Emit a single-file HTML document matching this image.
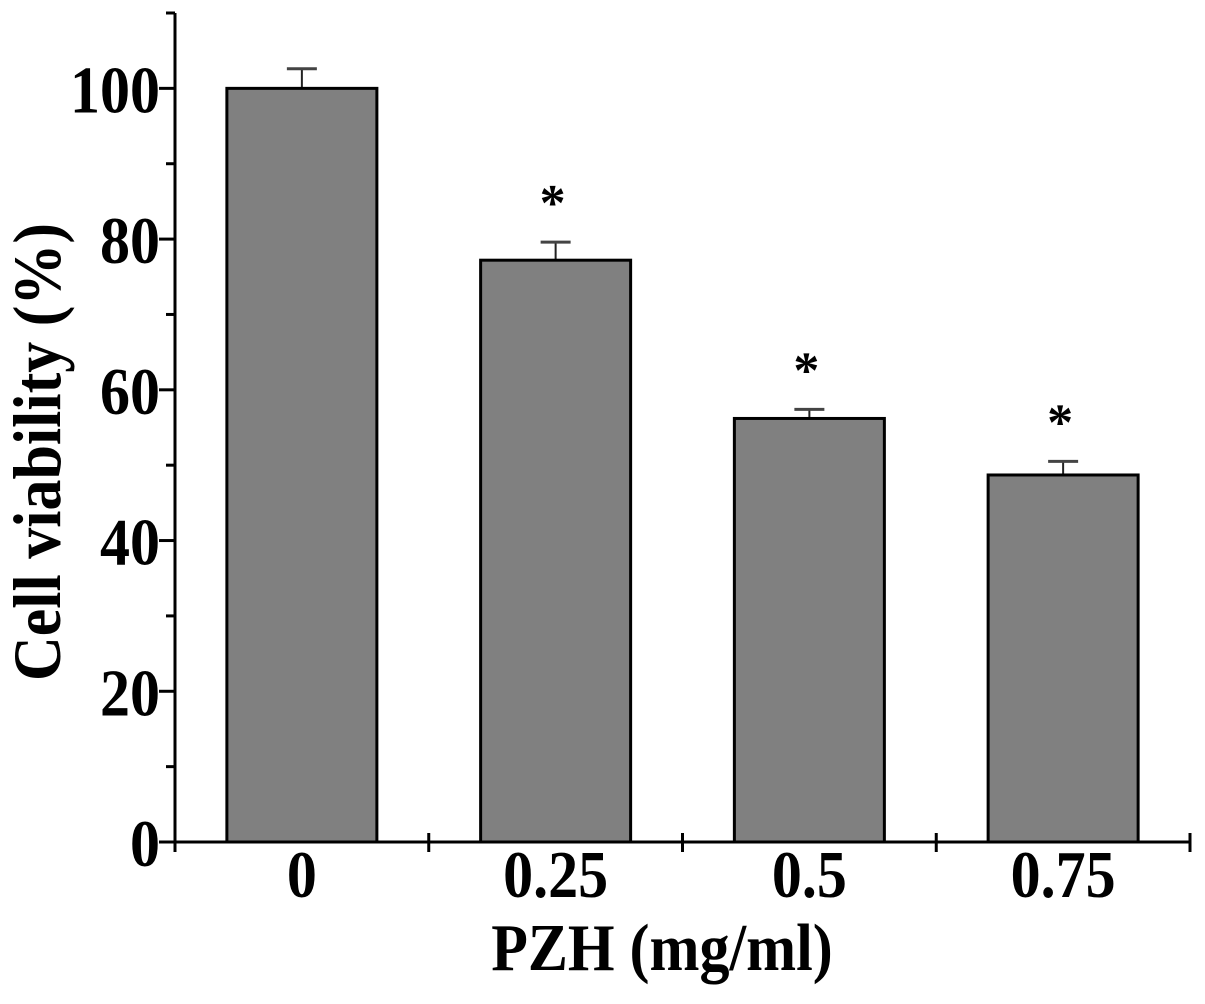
<!DOCTYPE html>
<html><head><meta charset="utf-8"><style>
html,body{margin:0;padding:0;background:#fff;}
svg text{font-family:"Liberation Serif",serif;font-weight:bold;fill:#000;}
</style></head><body>
<svg id="chart" width="1205" height="999" viewBox="0 0 1205 999" xmlns="http://www.w3.org/2000/svg">
<g id="bars"></g><g id="axes"></g>
<text transform="translate(60,452) rotate(-90) scale(1,1.1)" text-anchor="middle" font-size="62">Cell viability (%)</text>
<text transform="translate(662,970) scale(1,1.12)" text-anchor="middle" font-size="60">PZH (mg/ml)</text>
</svg>
<script>
const categories = ["0", "0.25", "0.5", "0.75"];
const values = [100, 77.2, 56.2, 48.7];
const errors = [2.6, 2.4, 1.2, 1.8];
const significant = [false, true, true, true];
const yTicks = [0, 20, 40, 60, 80, 100];
const yMinor = [10, 30, 50, 70, 90, 110];

const NS = "http://www.w3.org/2000/svg";
const x0 = 175, x1 = 1190, y0 = 842, yMax = 110, yTop = 13;
const yScale = v => y0 - v * (y0 - yTop) / yMax;
const band = (x1 - x0) / categories.length;
const xCenter = i => x0 + band * (i + 0.5);
const barW = 150;
function mk(tag, attrs, parent) {
  const el = document.createElementNS(NS, tag);
  for (const k in attrs) el.setAttribute(k, attrs[k]);
  parent.appendChild(el);
  return el;
}
const bars = document.getElementById("bars");
const axes = document.getElementById("axes");
categories.forEach((c, i) => {
  const cx = xCenter(i), yt = yScale(values[i]), ye = yScale(values[i] + errors[i]);
  const eb = mk("line", {x1: cx, x2: cx, y1: yt, y2: ye, stroke: "#222", "stroke-width": 2}, bars);
  
  
  const cap = mk("line", {x1: cx - 15, x2: cx + 15, y1: ye, y2: ye, stroke: "#444", "stroke-width": 3}, bars);
  
  
  const r = mk("rect", {x: cx - barW / 2, y: yt, width: barW, height: y0 - yt, fill: "#808080", stroke: "#000", "stroke-width": 3}, bars);
  
  
  const lab = mk("text", {transform: "translate(" + cx + ",897) scale(1,1.12)", "text-anchor": "middle", "font-size": 60}, axes);
  lab.textContent = c;
  
  
  if (significant[i]) {
    const s = mk("text", {x: cx - 3, y: ye - 22, "text-anchor": "middle", "font-size": 52}, bars);
    s.textContent = "*";
    
    
  }
});
const ya = mk("line", {x1: x0, x2: x0, y1: yTop, y2: y0 + 10, stroke: "#000", "stroke-width": 3}, axes);


const xa = mk("line", {x1: x0 - 16, x2: x1, y1: y0, y2: y0, stroke: "#000", "stroke-width": 3}, axes);


yTicks.forEach(t => {
  const y = yScale(t);
  const tk = mk("line", {x1: x0 - 16, x2: x0, y1: y, y2: y, stroke: "#000", "stroke-width": 3}, axes);
  
  
  const l = mk("text", {transform: "translate(160," + (y + 24) + ") scale(1,1.12)", "text-anchor": "end", "font-size": 60}, axes);
  l.textContent = t;
  
  
});
yMinor.forEach(t => {
  const y = yScale(t);
  const tk = mk("line", {x1: x0 - 9, x2: x0, y1: y, y2: y, stroke: "#000", "stroke-width": 3}, axes);
  
  
});
for (let i = 1; i <= categories.length; i++) {
  const x = x0 + band * i;
  const tk = mk("line", {x1: x, x2: x, y1: y0 - 9, y2: y0 + 10, stroke: "#000", "stroke-width": 3}, axes);
  
  
}
</script>
</body></html>
